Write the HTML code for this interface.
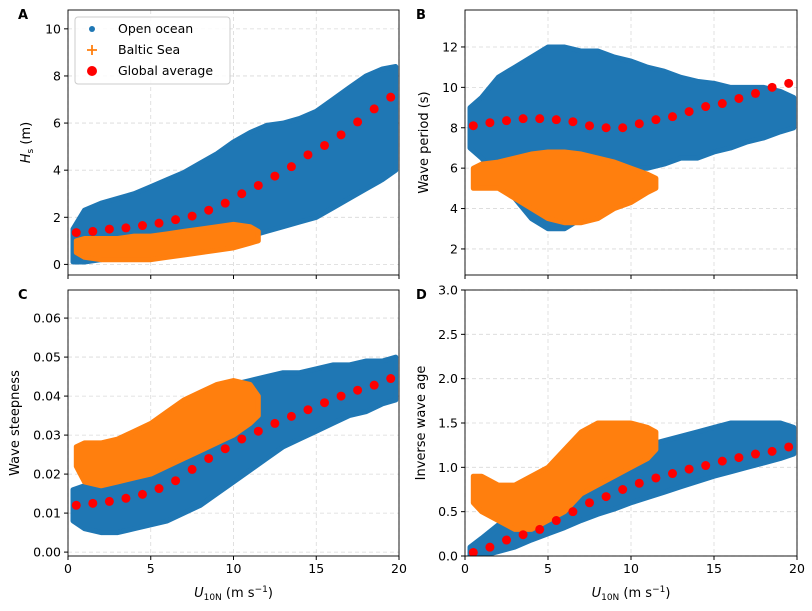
<!DOCTYPE html>
<html><head><meta charset="utf-8">
<style>
body{margin:0;background:#fff;}
svg{display:block;font-family:"DejaVu Sans","Liberation Sans",sans-serif;}
</style></head>
<body>
<svg id="fig" width="812" height="611" viewBox="0 0 812 611"></svg>
<script>
const avgX=[0.5,1.5,2.5,3.5,4.5,5.5,6.5,7.5,8.5,9.5,10.5,11.5,12.5,13.5,14.5,15.5,16.5,17.5,18.5,19.5];
const avgHs=[1.35,1.4,1.5,1.55,1.65,1.75,1.9,2.05,2.3,2.6,3.0,3.35,3.75,4.15,4.65,5.05,5.5,6.05,6.6,7.1];
const avgPeriod=[8.1,8.25,8.35,8.45,8.45,8.4,8.3,8.1,8.0,8.0,8.2,8.4,8.55,8.8,9.05,9.2,9.45,9.7,10.0,10.2];
const avgSteep=[0.012,0.0125,0.013,0.0138,0.0148,0.0163,0.0183,0.0212,0.024,0.0265,0.029,0.031,0.033,0.0348,0.0365,0.0383,0.04,0.0415,0.0428,0.0445];
const avgAge=[0.04,0.1,0.18,0.24,0.3,0.4,0.5,0.6,0.67,0.75,0.82,0.88,0.93,0.98,1.02,1.07,1.11,1.15,1.18,1.23];

const oceanX=[0.3,1,2,3,4,5,6,7,8,9,10,11,12,13,14,15,16,17,18,19,19.8];
const oceanHsLow=[0.1,0.1,0.2,0.3,0.4,0.5,0.6,0.7,0.8,0.9,1.0,1.2,1.4,1.6,1.8,2.0,2.4,2.8,3.2,3.6,4];
const oceanHsHigh=[1.5,2.3,2.6,2.8,3.0,3.3,3.6,3.9,4.3,4.7,5.2,5.6,5.9,6.0,6.2,6.5,7,7.5,8,8.3,8.4];
const oceanTLow=[7,6.5,5.5,4.5,3.5,3,3,3.5,4.5,5.5,6,6,6.2,6.5,6.5,6.8,7,7.3,7.5,7.8,8];
const oceanTHigh=[9,9.5,10.5,11,11.5,12,12,11.8,11.8,11.5,11.3,11,10.8,10.5,10.3,10.2,10,10,10,9.8,9.5];
const oceanSLow=[0.008,0.006,0.005,0.005,0.006,0.007,0.008,0.01,0.012,0.015,0.018,0.021,0.024,0.027,0.029,0.031,0.033,0.035,0.036,0.038,0.039];
const oceanSHigh=[0.016,0.017,0.018,0.02,0.022,0.025,0.03,0.034,0.038,0.041,0.043,0.044,0.045,0.046,0.046,0.047,0.048,0.048,0.049,0.049,0.05];
const oceanALow=[0,0,0.05,0.1,0.18,0.25,0.32,0.4,0.47,0.53,0.6,0.66,0.72,0.78,0.84,0.9,0.95,1.0,1.05,1.1,1.15];
const oceanAHigh=[0.1,0.2,0.35,0.5,0.65,0.8,0.95,1.05,1.1,1.15,1.2,1.25,1.3,1.35,1.4,1.45,1.5,1.5,1.5,1.5,1.45];

const balticX=[0.5,1,2,3,4,5,6,7,8,9,10,11,11.5];
const balticHsLow=[0.5,0.3,0.2,0.2,0.2,0.2,0.3,0.4,0.5,0.6,0.7,0.9,1.0];
const balticHsHigh=[1.0,1.1,1.1,1.1,1.2,1.2,1.3,1.4,1.5,1.6,1.7,1.6,1.4];
const balticTLow=[5,5,5,4.5,4,3.5,3.3,3.3,3.5,4,4.3,4.8,5];
const balticTHigh=[6,6.2,6.3,6.5,6.7,6.8,6.8,6.7,6.5,6.3,6,5.7,5.5];
const balticSLow=[0.022,0.018,0.017,0.018,0.019,0.02,0.022,0.024,0.026,0.028,0.03,0.033,0.035];
const balticSHigh=[0.027,0.028,0.028,0.029,0.031,0.033,0.036,0.039,0.041,0.043,0.044,0.043,0.04];
const balticALow=[0.6,0.5,0.4,0.3,0.3,0.4,0.5,0.7,0.8,0.9,1.0,1.1,1.2];
const balticAHigh=[0.9,0.9,0.8,0.8,0.9,1.0,1.2,1.4,1.5,1.5,1.5,1.45,1.4];

const xTicks=[0,5,10,15,20];
const ticksA=[0,2,4,6,8,10];
const ticksB=[2,4,6,8,10,12];
const ticksC=[0,0.01,0.02,0.03,0.04,0.05,0.06];
const ticksD=[0,0.5,1,1.5,2,2.5,3];

const NS="http://www.w3.org/2000/svg";
const svg=document.getElementById('fig');
function mk(tag,attrs,parent){const e=document.createElementNS(NS,tag);for(const k in attrs)e.setAttribute(k,attrs[k]);(parent||svg).appendChild(e);return e;}

const BLUE="#1f77b4",ORANGE="#ff7f0e",RED="#ff0000";

function panel(cfg){
  const g=mk('g',{});
  
  
  const L=cfg.L,R=cfg.R,T=cfg.T,B=cfg.B;
  const sx=v=>L+(v-0)/(20-0)*(R-L);
  const sy=v=>B-(v-cfg.ymin)/(cfg.ymax-cfg.ymin)*(B-T);
  // grid
  xTicks.forEach(t=>{const l=mk('line',{x1:sx(t),x2:sx(t),y1:T,y2:B,stroke:'#d9d9d9','stroke-dasharray':'4,3','stroke-width':0.8},g);
    });
  cfg.yt.forEach(t=>{const l=mk('line',{x1:L,x2:R,y1:sy(t),y2:sy(t),stroke:'#d9d9d9','stroke-dasharray':'4,3','stroke-width':0.8},g);
    });
  const clip=mk('clipPath',{id:'c'+cfg.id},g);mk('rect',{x:L,y:T,width:R-L,height:B-T},clip);
  const data=mk('g',{'clip-path':'url(#c'+cfg.id+')'},g);
  function band(xs,lo,hi,color,nm){
    let d='';xs.forEach((x,i)=>{d+=(i?'L':'M')+sx(x).toFixed(1)+','+sy(hi[i]).toFixed(1);});
    for(let i=xs.length-1;i>=0;i--)d+='L'+sx(xs[i]).toFixed(1)+','+sy(lo[i]).toFixed(1);
    const p=mk('path',{d:d+'Z',fill:color,stroke:color,'stroke-width':5,'stroke-linejoin':'round'},data);
    
  }
  band(oceanX,cfg.oLo,cfg.oHi,BLUE,'open-ocean-cloud');
  band(balticX,cfg.bLo,cfg.bHi,ORANGE,'baltic-sea-cloud');
  avgX.forEach((x,i)=>{const c=mk('circle',{cx:sx(x),cy:sy(cfg.avg[i]),r:4.5,fill:RED},data);
    });
  // frame
  const f=mk('rect',{x:L,y:T,width:R-L,height:B-T,fill:'none',stroke:'#000','stroke-width':0.9},g);
  
  xTicks.forEach(t=>{mk('line',{x1:sx(t),x2:sx(t),y1:B,y2:B+4,stroke:'#000'},g);
    if(cfg.xlab){const tx=mk('text',{x:sx(t),y:B+17,'text-anchor':'middle','font-size':12.5},g);tx.textContent=t;
      }});
  cfg.yt.forEach(t=>{mk('line',{x1:L-4,x2:L,y1:sy(t),y2:sy(t),stroke:'#000'},g);
    const tx=mk('text',{x:L-7,y:sy(t)+4.5,'text-anchor':'end','font-size':12.5},g);tx.textContent=cfg.fmt(t);
    });
  const yl=mk('text',{transform:`translate(${cfg.ylx},${(T+B)/2}) rotate(-90)`,'text-anchor':'middle','font-size':13},g);
  yl.innerHTML=cfg.ylabel;
  if(cfg.xlab){const xl=mk('text',{x:(L+R)/2,y:B+41,'text-anchor':'middle','font-size':13},g);
    xl.innerHTML='<tspan font-style="italic">U</tspan><tspan font-size="9" dy="3">10N</tspan><tspan dy="-3"> (m s</tspan><tspan font-size="9" dy="-5">−1</tspan><tspan dy="5">)</tspan>';
    }
  const pl=mk('text',{x:cfg.plx,y:T+9,'font-size':13,'font-weight':'bold'},g);pl.textContent=cfg.id;
  
}

panel({id:'A',name:'panel-a-wave-height',L:68,R:399,T:10,B:275,ymin:-0.45,ymax:10.8,yt:ticksA,fmt:t=>t,
  oLo:oceanHsLow,oHi:oceanHsHigh,bLo:balticHsLow,bHi:balticHsHigh,avg:avgHs,ylx:30,plx:18,xlab:false,
  ylabel:'<tspan font-style="italic">H</tspan><tspan font-size="9" dy="3">s</tspan><tspan dy="-3"> (m)</tspan>'});
panel({id:'B',name:'panel-b-wave-period',L:465,R:797,T:10,B:275,ymin:0.71,ymax:13.83,yt:ticksB,fmt:t=>t,
  oLo:oceanTLow,oHi:oceanTHigh,bLo:balticTLow,bHi:balticTHigh,avg:avgPeriod,ylx:428,plx:416,xlab:false,
  ylabel:'Wave period (s)'});
panel({id:'C',name:'panel-c-wave-steepness',L:68,R:399,T:290,B:556,ymin:-0.001,ymax:0.0672,yt:ticksC,fmt:t=>t.toFixed(2),
  oLo:oceanSLow,oHi:oceanSHigh,bLo:balticSLow,bHi:balticSHigh,avg:avgSteep,ylx:19,plx:18,xlab:true,
  ylabel:'Wave steepness'});
panel({id:'D',name:'panel-d-inverse-wave-age',L:465,R:797,T:290,B:556,ymin:0,ymax:3.0,yt:ticksD,fmt:t=>t.toFixed(1),
  oLo:oceanALow,oHi:oceanAHigh,bLo:balticALow,bHi:balticAHigh,avg:avgAge,ylx:425,plx:416,xlab:true,
  ylabel:'Inverse wave age'});

// legend
const lg=mk('g',{});


mk('rect',{x:75,y:17,width:155,height:67,rx:3,fill:'#fff','fill-opacity':0.85,stroke:'#ccc'},lg);
const e1=mk('g',{},lg);
mk('circle',{cx:92,cy:29,r:3,fill:BLUE},e1);
let t=mk('text',{x:118,y:33,'font-size':12.5},e1);t.textContent='Open ocean';
const e2=mk('g',{},lg);
mk('path',{d:'M87,50H97M92,45V55',stroke:ORANGE,'stroke-width':1.8},e2);
t=mk('text',{x:118,y:54,'font-size':12.5},e2);t.textContent='Baltic Sea';
const e3=mk('g',{},lg);
mk('circle',{cx:92,cy:71,r:5,fill:RED},e3);
t=mk('text',{x:118,y:75,'font-size':12.5},e3);t.textContent='Global average';
</script>
</body></html>
